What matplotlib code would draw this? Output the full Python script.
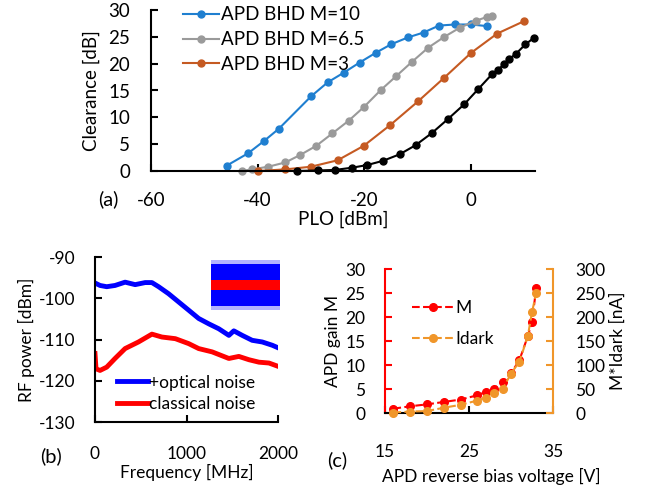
import numpy as np
import matplotlib
matplotlib.use("Agg")
import matplotlib.pyplot as plt

plt.rcParams['font.family'] = ['Lato', 'DejaVu Sans']
plt.rcParams['axes.unicode_minus'] = False

# ---------------------------------------------------------------------------
# Données — (a) clearance vs PLO
# ---------------------------------------------------------------------------

plo_m10  = [-45.8, -41.8, -38.8, -36.0, -30.0, -26.9, -23.9, -20.9, -17.9,
            -15.0, -11.8, -8.9, -6.0, -3.0, 0.0, 3.0]
clr_m10  = [1.0, 3.3, 5.6, 7.9, 13.9, 16.5, 18.3, 20.2, 22.0,
            23.6, 24.9, 25.8, 27.1, 27.3, 27.3, 27.0]

plo_m65  = [-43.0, -41.1, -38.0, -34.8, -32.0, -29.0, -26.0, -22.9, -20.0,
            -16.9, -14.0, -11.0, -8.0, -5.0, -2.1, 0.9, 3.0, 4.0]
clr_m65  = [0.0, 0.3, 0.8, 1.6, 3.0, 4.7, 7.0, 9.4, 12.0,
            15.1, 17.7, 20.4, 23.0, 25.0, 26.7, 28.0, 28.7, 28.9]

plo_m3   = [-39.9, -34.8, -30.0, -25.0, -20.1, -15.1, -9.9, -5.0, 0.0, 4.9, 9.9]
clr_m3   = [0.0, 0.3, 0.8, 2.0, 4.7, 8.6, 13.0, 17.4, 22.0, 25.6, 27.9]

plo_pin  = [-32.6, -28.6, -25.5, -22.4, -19.5, -16.5, -13.4, -10.4, -7.3,
            -4.3, -1.3, 1.3, 4.0, 5.1, 6.2, 7.2, 8.4, 10.2, 11.8]
clr_pin  = [0.0, 0.1, 0.2, 0.6, 1.1, 1.9, 3.1, 4.8, 7.1,
            9.7, 12.4, 15.2, 18.1, 18.9, 19.9, 20.9, 21.8, 23.6, 24.8]

# ---------------------------------------------------------------------------
# Données — (b) spectres RF
# ---------------------------------------------------------------------------

f_opt    = [0, 55, 128, 219, 329, 439, 548, 622, 695, 804, 914, 1024, 1133,
            1243, 1353, 1463, 1517, 1609, 1718, 1828, 1938, 2000]
p_opt    = [-96.3, -96.9, -97.2, -96.9, -96.1, -96.7, -96.2, -96.2, -97.2,
            -98.9, -100.9, -102.9, -104.9, -106.2, -107.4, -109.0, -107.9,
            -109.0, -110.2, -110.6, -111.4, -112.0]

f_cls    = [0, 11, 55, 128, 219, 329, 475, 622, 731, 878, 1024, 1133, 1280,
            1463, 1572, 1682, 1792, 1901, 2000]
p_cls    = [-113.4, -117.1, -117.5, -116.7, -114.6, -112.2, -110.6, -108.7,
            -109.4, -109.8, -111.0, -112.2, -113.0, -114.6, -114.1, -114.9,
            -115.5, -115.7, -116.5]

# ---------------------------------------------------------------------------
# Données — (c) gain APD et courant d'obscurité
# ---------------------------------------------------------------------------

v_bias   = [16, 18, 20, 22, 24, 26, 27, 28, 29, 30, 31, 32, 32.5, 33]
gain_m   = [0.9, 1.4, 1.8, 2.3, 2.8, 3.7, 4.4, 5.1, 6.4, 8.3, 11.0, 16.0, 19.0, 26.0]
m_idark  = [1, 3, 4, 11, 17, 26, 32, 41, 50, 82, 107, 160, 210, 250]

W, H = 655, 490
fig = plt.figure(figsize=(W / 100, H / 100), dpi=100)

FS_A = 13.5
FS_B = 12.5
FS_C = 12.5
FS_TAG = 14.5


def px_axes(left, top, right, bottom):
    return fig.add_axes([left / W, 1 - bottom / H, (right - left) / W, (bottom - top) / H])


def style_axes(ax, lw=1.5):
    for s in ("top", "right"):
        ax.spines[s].set_visible(False)
    for s in ("left", "bottom"):
        ax.spines[s].set_linewidth(lw)
    ax.tick_params(direction="in", length=5, width=lw)


# ---------------------------------------------------------------------------
# (a)
# ---------------------------------------------------------------------------

ax_a = px_axes(151, 10, 535, 171)
style_axes(ax_a)
ax_a.plot(plo_m10, clr_m10, "-o", color="#1F7FD0", lw=1.5, ms=5, label="APD BHD M=10", clip_on=False)
ax_a.plot(plo_m65, clr_m65, "-o", color="#9A9A9A", lw=1.5, ms=5, label="APD BHD M=6.5", clip_on=False)
ax_a.plot(plo_m3, clr_m3, "-o", color="#C55A22", lw=1.5, ms=5, label="APD BHD M=3", clip_on=False)
ax_a.plot(plo_pin, clr_pin, "-o", color="black", lw=1.5, ms=5, clip_on=False)
ax_a.set_xlim(-60, 12)
ax_a.set_ylim(0, 30)
ax_a.set_xticks([-60, -40, -20, 0])
ax_a.set_yticks(range(0, 31, 5))
ax_a.tick_params(axis="x", labelsize=FS_A, pad=15)
ax_a.tick_params(axis="y", labelsize=FS_A, pad=15)
ax_a.set_ylabel("Clearance [dB]", fontsize=FS_A, labelpad=6)
ax_a.set_xlabel("PLO [dBm]", fontsize=FS_A, labelpad=1)
ax_a.legend(loc="upper left", bbox_to_anchor=(0.065, 1.07), frameon=False, fontsize=FS_A,
            handlelength=1.9, handletextpad=0.1, labelspacing=0.42, borderaxespad=0)
fig.text(108 / W, 1 - 199 / H, "(a)", fontsize=FS_TAG, ha="center", va="center")

# ---------------------------------------------------------------------------
# (b)
# ---------------------------------------------------------------------------

ax_b = px_axes(95, 257, 278, 422)
style_axes(ax_b)
ax_b.plot(f_opt, p_opt, color="#0000FF", lw=3.5, label="+optical noise")
ax_b.plot(f_cls, p_cls, color="#FF0000", lw=3.5, label="classical noise")
ax_b.set_xlim(0, 2000)
ax_b.set_ylim(-130, -90)
ax_b.set_xticks([0, 1000, 2000])
ax_b.set_yticks(range(-130, -89, 10))
ax_b.tick_params(axis="x", labelsize=FS_B, pad=17)
ax_b.tick_params(axis="y", labelsize=FS_B, pad=14)
ax_b.set_ylabel("RF power [dBm]", fontsize=FS_B, labelpad=3)
ax_b.set_xlabel("Frequency [MHz]", fontsize=FS_B, labelpad=2)
ax_b.legend(loc="lower left", bbox_to_anchor=(0.08, 0.02), frameon=False, fontsize=FS_B,
            handlelength=1.8, handletextpad=0.05, labelspacing=0.3, borderaxespad=0)
fig.text(51 / W, 1 - 456 / H, "(b)", fontsize=FS_TAG, ha="center", va="center")

# encart : trace temporelle (bande bleue + bande rouge)
ax_in = px_axes(211, 259, 280, 311)
ax_in.fill_between([0, 1], -1.0, 1.0, color="#4040FF", alpha=0.4, lw=0)
ax_in.fill_between([0, 1], -0.86, 0.86, color="#0000FF", lw=0)
ax_in.fill_between([0, 1], -0.22, 0.22, color="#FF0000", lw=0)
ax_in.set_xlim(0, 1)
ax_in.set_ylim(-1.05, 1.05)
ax_in.axis("off")

# ---------------------------------------------------------------------------
# (c)
# ---------------------------------------------------------------------------

red, orange = "#FF0000", "#F0962A"
ax_c = px_axes(385, 269, 553, 413)
ax_c2 = ax_c.twinx()
l1, = ax_c.plot(v_bias, gain_m, "--o", color=red, lw=1.5, ms=5.5, label="M", clip_on=False)
l2, = ax_c2.plot(v_bias, m_idark, "--o", color=orange, lw=1.5, ms=5.5, label="Idark", clip_on=False)
ax_c.set_xlim(15, 35)
ax_c.set_ylim(0, 30)
ax_c2.set_ylim(0, 300)
ax_c.set_xticks([15, 25, 35])
ax_c.set_yticks(range(0, 31, 5))
ax_c2.set_yticks(range(0, 301, 50))
ax_c.spines["top"].set_visible(False)
ax_c2.spines["top"].set_visible(False)
ax_c2.spines["left"].set_visible(False)
ax_c2.spines["bottom"].set_visible(False)
ax_c.spines["right"].set_visible(False)
ax_c.spines["left"].set_color(red)
ax_c.spines["left"].set_linewidth(1.5)
ax_c.spines["bottom"].set_linewidth(1.5)
ax_c2.spines["right"].set_color(orange)
ax_c2.spines["right"].set_linewidth(1.5)
ax_c.tick_params(axis="y", direction="in", length=5, width=1.5, color=red, labelsize=FS_C, pad=14)
ax_c.tick_params(axis="x", direction="in", length=5, width=1.5, labelsize=FS_C, pad=22)
ax_c2.tick_params(axis="y", direction="in", length=5, width=1.5, color=orange, labelsize=FS_C, pad=16)
ax_c.set_ylabel("APD gain M", fontsize=FS_C, labelpad=3)
ax_c2.set_ylabel("M*Idark [nA]", fontsize=FS_C, labelpad=3)
ax_c.set_xlabel("APD reverse bias voltage [V]", fontsize=FS_C, labelpad=2)
ax_c.xaxis.set_label_coords((491 - 385) / 168, -0.38)
ax_c.legend([l1, l2], ["M", "Idark"], loc="upper left", bbox_to_anchor=(0.12, 0.83),
            frameon=False, fontsize=FS_C, handlelength=2.4, handletextpad=0.1,
            labelspacing=0.85, borderaxespad=0)
fig.text(337 / W, 1 - 460 / H, "(c)", fontsize=FS_TAG, ha="center", va="center")

fig.savefig("out.png", dpi=100)
